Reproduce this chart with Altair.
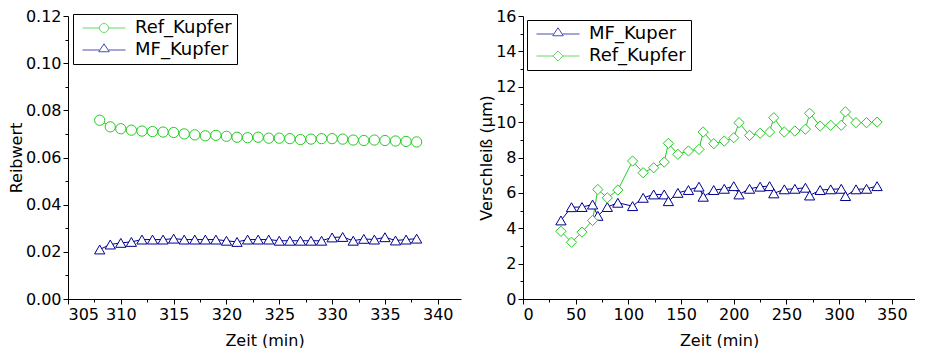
import altair as alt
import pandas as pd

# ---------------- data ----------------
zeit_links = [308, 309, 310, 311, 312, 313, 314, 315, 316, 317, 318, 319, 320, 321, 322,
              323, 324, 325, 326, 327, 328, 329, 330, 331, 332, 333, 334, 335, 336, 337, 338]
ref_reibwert = [0.0758, 0.0730, 0.0722, 0.0716, 0.0712, 0.0710, 0.0708, 0.0706, 0.0700, 0.0696,
                0.0692, 0.0694, 0.0690, 0.0686, 0.0684, 0.0686, 0.0682, 0.0682, 0.0680, 0.0676,
                0.0678, 0.0680, 0.0680, 0.0678, 0.0674, 0.0672, 0.0674, 0.0672, 0.0670, 0.0668, 0.0666]
mf_reibwert = [0.0210, 0.0231, 0.0238, 0.0242, 0.0252, 0.0252, 0.0252, 0.0256, 0.0252, 0.0252,
               0.0252, 0.0252, 0.0247, 0.0242, 0.0252, 0.0252, 0.0252, 0.0247, 0.0247, 0.0247,
               0.0247, 0.0247, 0.0261, 0.0263, 0.0247, 0.0255, 0.0252, 0.0262, 0.0248, 0.0252, 0.0256]

zeit_rechts = [36, 46, 56, 66, 71, 80, 90, 104, 114, 124, 134, 138, 147, 157, 167, 171, 181, 191,
               200, 205, 215, 225, 234, 238, 248, 258, 268, 272, 282, 292, 302, 306, 316, 326, 336]
mf_verschleiss = [4.44, 5.19, 5.20, 5.34, 4.70, 5.20, 5.44, 5.25, 5.72, 5.91, 5.91, 5.53, 6.00,
                  6.16, 6.35, 5.78, 6.16, 6.23, 6.38, 5.91, 6.23, 6.35, 6.38, 5.97, 6.20, 6.23,
                  6.29, 5.85, 6.16, 6.20, 6.23, 5.82, 6.20, 6.23, 6.38]
ref_verschleiss = [3.83, 3.21, 3.78, 4.44, 6.19, 5.72, 6.16, 7.80, 7.14, 7.42, 7.74, 8.80, 8.18,
                   8.37, 8.46, 9.44, 8.78, 8.93, 9.12, 9.97, 9.25, 9.37, 9.44, 10.25, 9.44, 9.50,
                   9.60, 10.50, 9.78, 9.82, 9.82, 10.58, 9.97, 9.97, 10.00]

serien_links = ["Ref_Kupfer", "MF_Kupfer"]
serien_rechts = ["MF_Kuper", "Ref_Kupfer"]

GREEN = "#22cc22"
BLUE = "#000090"
FONT = "DejaVu Sans"

# legend symbols: line with marker (custom paths, unit = sqrt(size)/2)
LEG_CIRCLE = "M-4.3,0H-0.9M0.9,0H4.3M-0.9,0A0.9,0.9,0,1,0,0.9,0A0.9,0.9,0,1,0,-0.9,0"
LEG_TRI = "M-4.3,0H-0.9M0.9,0H4.3M-1.05,0.35L0,-1.25L1.05,0.35Z"
LEG_DIAMOND = "M-4.3,0H-1M1,0H4.3M-1,0L0,-1L1,0L0,1Z"

df_l = pd.concat([
    pd.DataFrame({"Zeit": zeit_links, "Wert": ref_reibwert, "Serie": "Ref_Kupfer"}),
    pd.DataFrame({"Zeit": zeit_links, "Wert": mf_reibwert, "Serie": "MF_Kupfer"}),
])
df_r = pd.concat([
    pd.DataFrame({"Zeit": zeit_rechts, "Wert": mf_verschleiss, "Serie": "MF_Kuper"}),
    pd.DataFrame({"Zeit": zeit_rechts, "Wert": ref_verschleiss, "Serie": "Ref_Kupfer"}),
])


def panel(df, serien, colors, shapes, leg_shapes, xdom, xticks, xminor, ydom, yticks, yminor,
          yfmt, ytitle, legx, legy, w, h):
    xs = alt.Scale(domain=xdom, nice=False, zero=False)
    ys = alt.Scale(domain=ydom, nice=False, zero=False)
    xax = alt.Axis(values=xticks, title="Zeit (min)", orient="bottom", format="d")
    yax = alt.Axis(values=yticks, title=ytitle, orient="left", format=yfmt)
    base = alt.Chart(df)

    line = base.mark_line(strokeWidth=1).encode(
        x=alt.X("Zeit:Q", scale=xs, axis=xax),
        y=alt.Y("Wert:Q", scale=ys, axis=yax),
        color=alt.Color("Serie:N", scale=alt.Scale(domain=serien, range=colors), legend=None),
        order="Zeit:Q",
    )
    pts = base.mark_point(filled=True, fill="white", strokeWidth=1, size=105, opacity=1).encode(
        x=alt.X("Zeit:Q", scale=xs, axis=None),
        y=alt.Y("Wert:Q", scale=ys, axis=None),
        stroke=alt.Stroke("Serie:N", scale=alt.Scale(domain=serien, range=colors), legend=None),
        shape=alt.Shape("Serie:N", scale=alt.Scale(domain=serien, range=shapes), legend=None),
    )
    minor = base.mark_point(opacity=0).encode(
        x=alt.X("Zeit:Q", scale=xs, axis=alt.Axis(values=xminor, labels=False, domain=False,
                                                   title=None, tickSize=3, orient="bottom")),
        y=alt.Y("Wert:Q", scale=ys, axis=alt.Axis(values=yminor, labels=False, domain=False,
                                                   title=None, tickSize=3, orient="left")),
    ).transform_filter("false")
    leg = base.mark_point(filled=False, strokeWidth=1, size=100).encode(
        x=alt.X("Zeit:Q", scale=xs, axis=None),
        y=alt.Y("Wert:Q", scale=ys, axis=None),
        color=alt.Color("Serie:N", scale=alt.Scale(domain=serien, range=colors),
                        legend=alt.Legend(title=None, orient="none", legendX=legx, legendY=legy,
                                          strokeColor="black", padding=5, symbolOffset=17,
                                          labelOffset=22, rowPadding=4, symbolStrokeWidth=1,
                                          labelFont=FONT, labelFontSize=18, labelColor="black",
                                          fillColor="white")),
        shape=alt.Shape("Serie:N", scale=alt.Scale(domain=serien, range=leg_shapes),
                        legend=alt.Legend(title=None, orient="none", legendX=legx, legendY=legy)),
    ).transform_filter("false")
    return alt.layer(minor, line, pts, leg).resolve_scale(
        color="independent", shape="independent", stroke="independent"
    ).resolve_axis(x="independent", y="independent").properties(width=w, height=h)


left = panel(df_l, serien_links, [GREEN, BLUE], ["circle", "triangle-up"], [LEG_CIRCLE, LEG_TRI],
             [305, 342.2], [305, 310, 315, 320, 325, 330, 335, 340],
             [307.5, 312.5, 317.5, 322.5, 327.5, 332.5, 337.5],
             [0, 0.12], [0, 0.02, 0.04, 0.06, 0.08, 0.10, 0.12],
             [0.01, 0.03, 0.05, 0.07, 0.09, 0.11], ".2f", "Reibwert", 5, -2, 393, 283)

right = panel(df_r, serien_rechts, [BLUE, GREEN], ["triangle-up", "diamond"], [LEG_TRI, LEG_DIAMOND],
              [0, 372], [0, 50, 100, 150, 200, 250, 300, 350],
              [25, 75, 125, 175, 225, 275, 325],
              [0, 16], [0, 2, 4, 6, 8, 10, 12, 14, 16],
              [1, 3, 5, 7, 9, 11, 13, 15], "d", "Verschleiß (µm)", 4, 4, 392, 283)

chart = alt.hconcat(left, right, spacing=17).properties(
    padding={"left": 0, "top": 0, "right": 0, "bottom": 0}
).configure_view(stroke=None).configure_axis(
    domainColor="black", tickColor="black", labelColor="black", titleColor="black",
    labelFont=FONT, titleFont=FONT, labelFontSize=16, titleFontSize=16,
    titleFontWeight="normal", grid=False, tickSize=5, domainWidth=1, tickWidth=1,
    labelPadding=2, titlePadding=1
).configure_axisX(titlePadding=10, labelPadding=2)

chart.save("out.html", embed_options={"renderer": "svg", "actions": False})
